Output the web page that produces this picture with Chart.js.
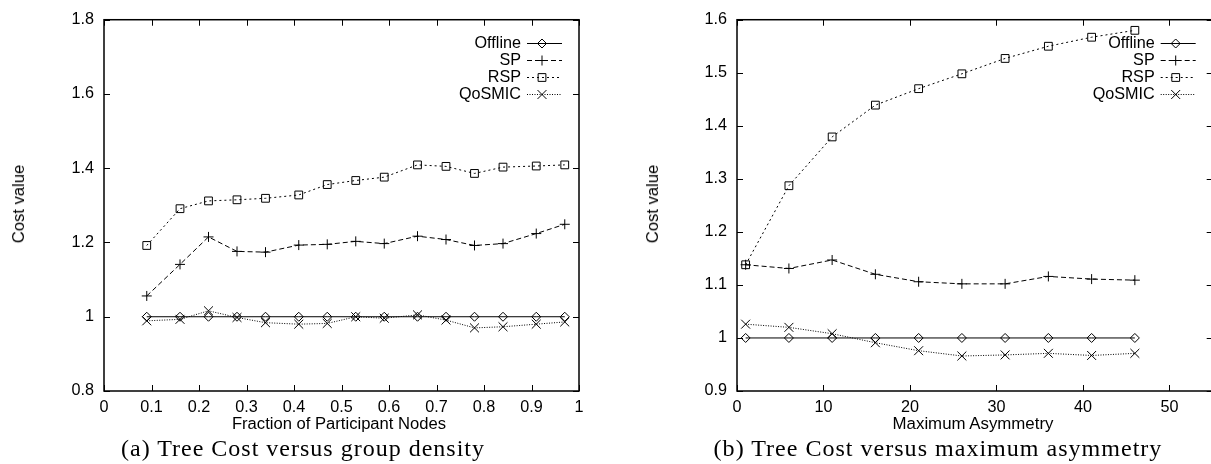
<!DOCTYPE html>
<html>
<head>
<meta charset="utf-8">
<script src="https://cdn.jsdelivr.net/npm/chart.js@4.4.1/dist/chart.umd.min.js"></script>
<style>
  html, body { margin: 0; padding: 0; background: #fff; overflow: hidden; width: 1211px; height: 464px; }
  canvas { position: absolute; top: 0; }
  .lbl { position: absolute; font-family: "Liberation Sans", Arial, sans-serif; font-size: 16px; color: #000;
         white-space: nowrap; transform: translate(-50%, -50%); }
  .ylbl { transform: translate(-50%, -50%) rotate(-90deg); }
  .cap { position: absolute; font-family: "Liberation Serif", serif; font-size: 20px; color: #000;
         white-space: nowrap; letter-spacing: 1px; transform: translate(-50%, -50%); }
</style>
</head>
<body>
<canvas id="chartA" width="600" height="464" style="left:0"></canvas>
<canvas id="chartB" width="620" height="464" style="left:600px"></canvas>

<div class="lbl ylbl" data-w="79" style="left:19px; top:204px">Cost value</div>
<div class="lbl ylbl" data-w="79" style="left:653px; top:204px">Cost value</div>
<div class="lbl" data-w="214" style="left:339px; top:424px">Fraction of Participant Nodes</div>
<div class="lbl" data-w="161" style="left:973px; top:424px">Maximum Asymmetry</div>
<div class="cap" data-w="371" style="left:303px; top:448px">(a) Tree Cost versus group density</div>
<div class="cap" data-w="457" style="left:938px; top:448px">(b) Tree Cost versus maximum asymmetry</div>

<script>
// series names + styles order
const seriesNames = ['Offline', 'SP', 'RSP', 'QoSMIC'];

// (a) group density
const densityX = [0.09, 0.16, 0.22, 0.28, 0.34, 0.41, 0.47, 0.53, 0.59, 0.66, 0.72, 0.78, 0.84, 0.91, 0.97];
const densityOffline = [1, 1, 1, 1, 1, 1, 1, 1, 1, 1, 1, 1, 1, 1, 1];
const densitySP = [1.056, 1.141, 1.215, 1.176, 1.174, 1.193, 1.195, 1.203, 1.197, 1.217, 1.208, 1.192, 1.197, 1.224, 1.249];
const densityRSP = [1.192, 1.291, 1.312, 1.315, 1.319, 1.328, 1.356, 1.367, 1.376, 1.409, 1.405, 1.386, 1.403, 1.406, 1.409];
const densityQoSMIC = [0.989, 0.993, 1.016, 0.998, 0.984, 0.980, 0.982, 1.0, 0.996, 1.005, 0.991, 0.970, 0.973, 0.980, 0.986];

// (b) maximum asymmetry
const asymX = [1, 6, 11, 16, 21, 26, 31, 36, 41, 46];
const asymOffline = [1, 1, 1, 1, 1, 1, 1, 1, 1, 1];
const asymSP = [1.138, 1.131, 1.147, 1.120, 1.106, 1.102, 1.102, 1.116, 1.111, 1.109];
const asymRSP = [1.138, 1.287, 1.379, 1.439, 1.470, 1.498, 1.527, 1.550, 1.567, 1.580];
const asymQoSMIC = [1.026, 1.020, 1.008, 0.991, 0.976, 0.966, 0.968, 0.971, 0.967, 0.971];

const styles = [
  { pointStyle: 'rectRot', pointRadius: 4.5, borderDash: [] },
  { pointStyle: 'cross', pointRadius: 5, borderDash: [5, 3] },
  { pointStyle: 'rect', pointRadius: 5.5, borderDash: [2, 3] },
  { pointStyle: 'crossRot', pointRadius: 6.3, borderDash: [1, 1.5] }
];

const FAMILY = '"Liberation Sans", Arial, sans-serif';

// size the canvas font so that "QoSMIC" is as wide as in the figure (~62px)
const probe = document.createElement('canvas').getContext('2d');
probe.font = '16px ' + FAMILY;
const fontSize = Math.round(16 * 62 / probe.measureText('QoSMIC').width * 10) / 10;
const FONT = { family: FAMILY, size: fontSize };

function fmt(v) { return String(+(+v).toFixed(2)); }

function makeDatasets(xs, lists) {
  return lists.map((ys, i) => ({
    label: seriesNames[i],
    data: xs.map((x, j) => ({ x: x, y: ys[j] })),
    borderColor: '#000',
    backgroundColor: 'rgba(0,0,0,0)',
    borderWidth: 1,
    borderDash: styles[i].borderDash,
    pointStyle: styles[i].pointStyle,
    pointRadius: styles[i].pointRadius,
    pointBorderColor: '#000',
    pointBackgroundColor: 'rgba(0,0,0,0)',
    pointBorderWidth: 1,
    tension: 0
  }));
}

// gnuplot like frame, inward ticks on all sides and key at top right
const frameTicks = {
  id: 'frameTicks',
  afterDraw(chart) {
    const ctx = chart.ctx;
    const a = chart.chartArea;
    const x = chart.scales.x, y = chart.scales.y;
    ctx.save();
    ctx.strokeStyle = '#000';
    ctx.lineWidth = 1;
    ctx.setLineDash([]);
    ctx.beginPath();
    x.ticks.forEach((t, i) => {
      const px = Math.round(x.getPixelForTick(i)) + 0.5;
      ctx.moveTo(px, a.bottom); ctx.lineTo(px, a.bottom - 6);
      ctx.moveTo(px, a.top); ctx.lineTo(px, a.top + 6);
    });
    y.ticks.forEach((t, i) => {
      const py = Math.round(y.getPixelForTick(i)) + 0.5;
      ctx.moveTo(a.left, py); ctx.lineTo(a.left + 6, py);
      ctx.moveTo(a.right, py); ctx.lineTo(a.right - 6, py);
    });
    ctx.stroke();
    ctx.lineWidth = 1.5;
    ctx.strokeRect(a.left, a.top, a.right - a.left, a.bottom - a.top);

    // key
    ctx.font = FONT.size + 'px ' + FONT.family;
    ctx.textAlign = 'right';
    ctx.textBaseline = 'middle';
    chart.data.datasets.forEach((ds, i) => {
      const ry = Math.round(a.top + 23.5 + 17 * i) + 0.5;
      ctx.fillStyle = '#000';
      ctx.fillText(ds.label, a.right - 58, ry);
      const x0 = a.right - 52, x1 = a.right - 17;
      ctx.lineWidth = 1;
      ctx.setLineDash(ds.borderDash);
      ctx.beginPath();
      ctx.moveTo(x0, ry);
      ctx.lineTo(x1, ry);
      ctx.stroke();
      ctx.setLineDash([]);
      ctx.fillStyle = 'rgba(0,0,0,0)';
      Chart.helpers.drawPoint(ctx, { pointStyle: ds.pointStyle, radius: ds.pointRadius, rotation: 0, borderWidth: 1 },
        x0 + 15, ry);
    });
    ctx.restore();
  }
};

function makeChart(id, datasets, opts) {
  return new Chart(document.getElementById(id), {
    type: 'line',
    data: { datasets: datasets },
    options: {
      responsive: false,
      animation: false,
      devicePixelRatio: 1,
      layout: { padding: { top: opts.top, right: opts.padRight, left: 0, bottom: 0 } },
      plugins: { legend: { display: false }, tooltip: { enabled: false } },
      scales: {
        x: {
          type: 'linear',
          min: opts.xMin, max: opts.xMax,
          grid: { display: false, drawTicks: false },
          border: { display: false },
          ticks: { stepSize: opts.xStep, includeBounds: opts.xBounds, color: '#000', font: FONT, padding: 7, callback: fmt, maxRotation: 0, autoSkip: false },
          afterFit(s) { s.height = 464 - opts.bottom; }
        },
        y: {
          min: opts.yMin, max: opts.yMax,
          grid: { display: false, drawTicks: false },
          border: { display: false },
          ticks: { stepSize: opts.yStep, color: '#000', font: FONT, padding: 10, callback: fmt, autoSkip: false },
          afterFit(s) { s.width = opts.left; }
        }
      }
    },
    plugins: [frameTicks]
  });
}

makeChart('chartA', makeDatasets(densityX, [densityOffline, densitySP, densityRSP, densityQoSMIC]), {
  top: 19, bottom: 391, left: 104, padRight: 21,
  xMin: 0, xMax: 1, xStep: 0.1, xBounds: true,
  yMin: 0.8, yMax: 1.8, yStep: 0.2
});

makeChart('chartB', makeDatasets(asymX, [asymOffline, asymSP, asymRSP, asymQoSMIC]), {
  top: 19, bottom: 391, left: 137, padRight: 6.7,
  xMin: 0, xMax: 55, xStep: 10, xBounds: false,
  yMin: 0.9, yMax: 1.6, yStep: 0.1
});

// scale the html labels so they span the same width as in the figure
document.querySelectorAll('.lbl, .cap').forEach(el => {
  const fs = parseFloat(getComputedStyle(el).fontSize);
  const w = el.offsetWidth;
  el.style.fontSize = (fs * el.dataset.w / w).toFixed(2) + 'px';
});
</script>
</body>
</html>
